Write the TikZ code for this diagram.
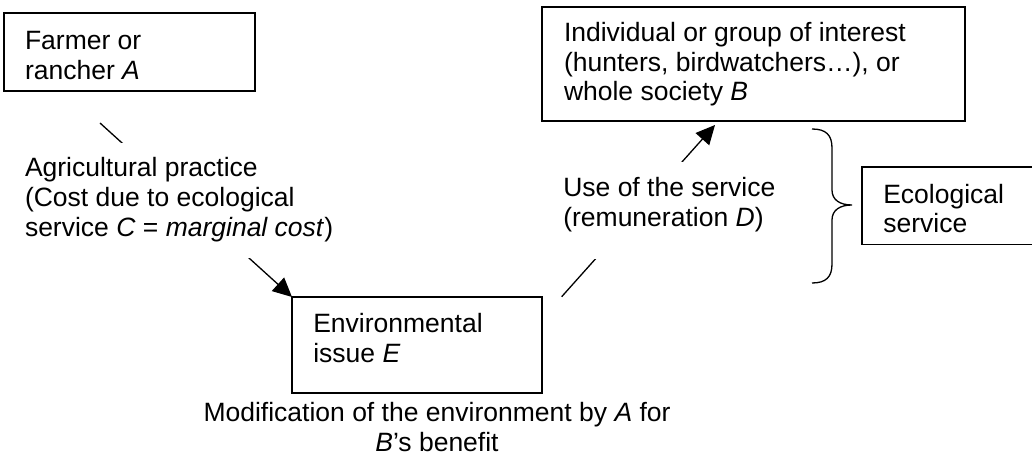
\documentclass[tikz,border=0pt]{standalone}
\usepackage{fontspec}
\setmainfont{Liberation Sans}
\usetikzlibrary{arrows.meta}
\newlength{\pxu}\setlength{\pxu}{0.45283pt}
\newcommand{\toppad}[1]{\rule{0pt}{#1\pxu}}
\newcommand{\botpad}[1]{\rule[-#1\pxu]{0pt}{#1\pxu}}
\begin{document}
\begin{tikzpicture}[x=\pxu,y=-\pxu,
  every node/.style={font=\fontsize{12}{13.36}\selectfont, inner sep=0pt, outer sep=0pt},
  box/.style={draw, line width=0.59pt, anchor=north west},
  lbl/.style={fill=white, anchor=base west},
  conn/.style={line width=0.59pt, -{Triangle[length=8.6pt,width=8.2pt]}},
  bracepath/.style={line width=0.59pt},
]
\useasboundingbox (0,0) rectangle (1032,474);

% boxes
\node[box] (A) at (4,13) {\begin{tabular}[t]{@{\hspace{21\pxu}}p{230\pxu}@{}}\toppad{37}Farmer or\\ rancher \textit{A}\botpad{11.5}\end{tabular}};
\node[box] (B) at (542,7) {\begin{tabular}[t]{@{\hspace{22\pxu}}p{401\pxu}@{}}\toppad{34.7}Individual or group of interest\\ (hunters, birdwatchers…), or\\ whole society \textit{B}\botpad{20.3}\end{tabular}};
\node[box] (E) at (292,297) {\begin{tabular}[t]{@{\hspace{21.3\pxu}}p{228.7\pxu}@{}}\toppad{35.7}Environmental\\ issue \textit{E}\botpad{30.8}\end{tabular}};
\node[box] (S) at (862,167) {\begin{tabular}[t]{@{\hspace{21.3\pxu}}p{156.7\pxu}@{}}\toppad{36.3}Ecological\\ service\botpad{11.7}\end{tabular}};

% connectors
\coordinate (s1) at (100,123);
\coordinate (s2) at (561.7,296.7);
\coordinate (t2) at (715,125);
\draw[conn] (s1) -- (E.north west);
\draw[conn] (s2) -- (t2);

% connector labels (white background hides the middle of the connectors)
\node[lbl] (L1) at (25,177) {\begin{tabular}[t]{@{}l@{}}\toppad{34.3}Agricultural practice\\ (Cost due to ecological\\ service \textit{C} = \textit{marginal cost})\botpad{22.3}\end{tabular}};
\node[lbl] (L2) at (563.3,196.7) {\begin{tabular}[t]{@{}l@{}}\toppad{34.5}Use of the service\\ (remuneration \textit{D})\botpad{33}\end{tabular}};

% caption
\node[anchor=base] (M) at (437,421.7) {\begin{tabular}[t]{@{}c@{}}Modification of the environment by \textit{A} for\\ \textit{B}’s benefit\end{tabular}};

% brace
\draw[bracepath] (812,129) .. controls (826,129) and (832,135) .. (832,148) -- (832,190)
  .. controls (832,200) and (840,205) .. (852,205)
  .. controls (840,205) and (832,210) .. (832,220) -- (832,264)
  .. controls (832,277) and (826,283) .. (812,283);
\end{tikzpicture}
\end{document}
